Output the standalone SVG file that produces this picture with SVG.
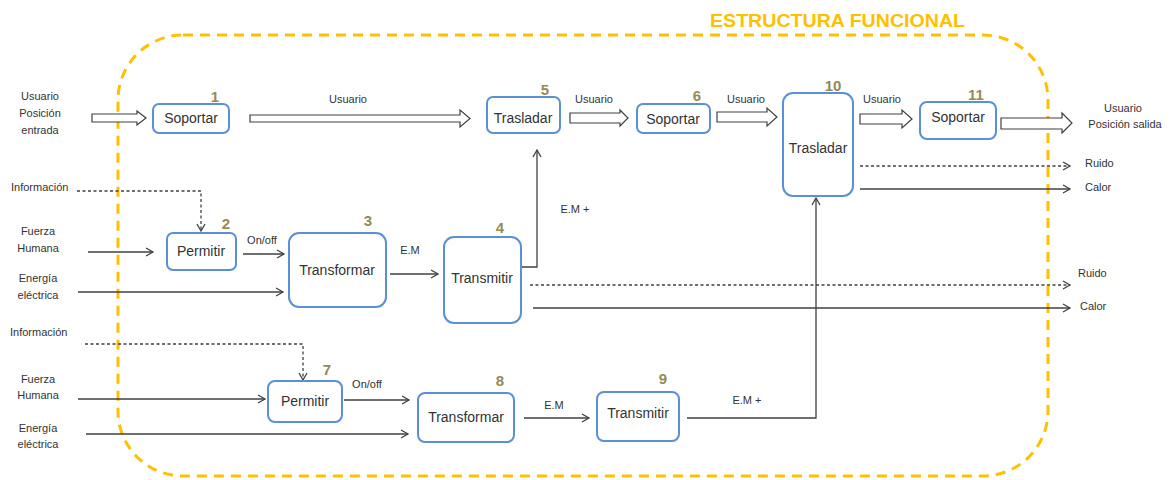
<svg xmlns="http://www.w3.org/2000/svg" width="1173" height="480" viewBox="0 0 1173 480">
<style>
text{font-family:"Liberation Sans",Arial,sans-serif;fill:#333}
.node rect{fill:#fff;stroke:#5B8FD6;stroke-width:2}
.nt{font-size:14px;text-anchor:middle}
.num{font-size:15px;font-weight:bold;fill:#948A54;text-anchor:middle}
.lb{font-size:11px;text-anchor:middle}
.ll{font-size:11px}
.c{fill:none;stroke:#404040;stroke-width:1.3}
.d{stroke-dasharray:3,2.5}
.blk{fill:#fff;stroke:#404040;stroke-width:1.2}
</style>
<defs>
<marker id="ah" markerWidth="10" markerHeight="10" refX="8" refY="5" orient="auto" markerUnits="userSpaceOnUse">
<path d="M1,1 L8,5 L1,9" fill="none" stroke="#404040" stroke-width="1.3"/>
</marker>
</defs>
<rect x="0" y="0" width="1173" height="480" fill="#fff"/>
<g id="boundary">
<rect x="118" y="35" width="930" height="441" rx="65" ry="65" fill="none" stroke="#FFC000" stroke-width="3" stroke-dasharray="10,7"/>
<text x="710" y="27" style="font-size:19px;font-weight:bold;fill:#FFC000" textLength="255" lengthAdjust="spacingAndGlyphs">ESTRUCTURA FUNCIONAL</text>
</g>
<g id="connectors">
<polygon class="blk" points="92,114 137,114 137,111 146,118 137,125 137,122 92,122"/>
<polygon class="blk" points="250,115 460,115 460,110 470,118.5 460,127 460,122 250,122"/>
<polygon class="blk" points="570,113 620,113 620,110 628,118 620,126 620,123 570,123"/>
<polygon class="blk" points="717,112 767,112 767,108 777,117 767,126 767,122 717,122"/>
<polygon class="blk" points="860,114 902,114 902,110 912,119 902,128 902,124 860,124"/>
<polygon class="blk" points="1001,118 1062,118 1062,113 1072,123 1062,133 1062,129 1001,129"/>
<path class="c d" d="M77,191 H201 V231" marker-end="url(#ah)"/>
<path class="c" d="M88,252 H153" marker-end="url(#ah)"/>
<path class="c" d="M78,292 H283" marker-end="url(#ah)"/>
<path class="c" d="M243,254 H284" marker-end="url(#ah)"/>
<path class="c" d="M390,274 H438" marker-end="url(#ah)"/>
<path class="c" d="M522,267 H537 V150" marker-end="url(#ah)"/>
<path class="c d" d="M530,285 H1070" marker-end="url(#ah)"/>
<path class="c" d="M533,308 H1070" marker-end="url(#ah)"/>
<path class="c d" d="M860,166 H1070" marker-end="url(#ah)"/>
<path class="c" d="M860,189 H1070" marker-end="url(#ah)"/>
<path class="c d" d="M85,344 H303 V380" marker-end="url(#ah)"/>
<path class="c" d="M78,399 H265" marker-end="url(#ah)"/>
<path class="c" d="M86,434 H408" marker-end="url(#ah)"/>
<path class="c" d="M344,400 H409" marker-end="url(#ah)"/>
<path class="c" d="M524,418 H589" marker-end="url(#ah)"/>
<path class="c" d="M687,418 H816 V198" marker-end="url(#ah)"/>
</g>
<g id="labels">
<text class="lb" x="40" y="100">Usuario</text>
<text class="lb" x="40" y="117">Posición</text>
<text class="lb" x="40" y="134">entrada</text>
<text class="lb" x="348" y="103">Usuario</text>
<text class="lb" x="594" y="103">Usuario</text>
<text class="lb" x="746" y="103">Usuario</text>
<text class="lb" x="882" y="103">Usuario</text>
<text class="lb" x="1123" y="112">Usuario</text>
<text class="lb" x="1125" y="128">Posición salida</text>
<text class="ll" x="1085" y="167">Ruido</text>
<text class="ll" x="1085" y="191">Calor</text>
<text class="ll" x="1078" y="277">Ruido</text>
<text class="ll" x="1080" y="310">Calor</text>
<text class="ll" x="11" y="191">Información</text>
<text class="lb" x="38" y="235">Fuerza</text>
<text class="lb" x="38" y="252">Humana</text>
<text class="lb" x="38" y="282">Energía</text>
<text class="lb" x="38" y="299">eléctrica</text>
<text class="lb" x="262" y="244">On/off</text>
<text class="lb" x="410" y="254">E.M</text>
<text class="lb" x="575" y="213">E.M +</text>
<text class="ll" x="10" y="336">Información</text>
<text class="lb" x="38" y="383">Fuerza</text>
<text class="lb" x="38" y="399">Humana</text>
<text class="lb" x="38" y="432">Energía</text>
<text class="lb" x="38" y="448">eléctrica</text>
<text class="lb" x="367" y="388">On/off</text>
<text class="lb" x="554" y="409">E.M</text>
<text class="lb" x="747" y="404">E.M +</text>
</g>
<g id="n1" class="node"><rect x="153" y="104" width="76" height="29" rx="6"/><text class="nt" x="191" y="123">Soportar</text><text class="num" x="215" y="102">1</text></g>
<g id="n2" class="node"><rect x="167" y="233" width="69" height="37" rx="6"/><text class="nt" x="201" y="256">Permitir</text><text class="num" x="226" y="229">2</text></g>
<g id="n3" class="node"><rect x="289" y="233" width="97" height="74" rx="10"/><text class="nt" x="337" y="275">Transformar</text><text class="num" x="368" y="226">3</text></g>
<g id="n4" class="node"><rect x="444" y="237" width="77" height="86" rx="10"/><text class="nt" x="482" y="283">Transmitir</text><text class="num" x="500" y="233">4</text></g>
<g id="n5" class="node"><rect x="487" y="97" width="73" height="36" rx="6"/><text class="nt" x="523" y="123">Trasladar</text><text class="num" x="545" y="95">5</text></g>
<g id="n6" class="node"><rect x="637" y="104" width="73" height="29" rx="6"/><text class="nt" x="673" y="124">Soportar</text><text class="num" x="697" y="101">6</text></g>
<g id="n7" class="node"><rect x="268" y="381" width="74" height="41" rx="7"/><text class="nt" x="305" y="406">Permitir</text><text class="num" x="327" y="375">7</text></g>
<g id="n8" class="node"><rect x="418" y="393" width="96" height="49" rx="7"/><text class="nt" x="466" y="422">Transformar</text><text class="num" x="500" y="386">8</text></g>
<g id="n9" class="node"><rect x="597" y="392" width="82" height="49" rx="7"/><text class="nt" x="638" y="418">Transmitir</text><text class="num" x="663" y="384">9</text></g>
<g id="n10" class="node"><rect x="783" y="93" width="70" height="103" rx="10"/><text class="nt" x="818" y="153">Trasladar</text><text class="num" x="833" y="91">10</text></g>
<g id="n11" class="node"><rect x="920" y="102" width="76" height="37" rx="7"/><text class="nt" x="958" y="122">Soportar</text><text class="num" x="976" y="100">11</text></g>
</svg>
